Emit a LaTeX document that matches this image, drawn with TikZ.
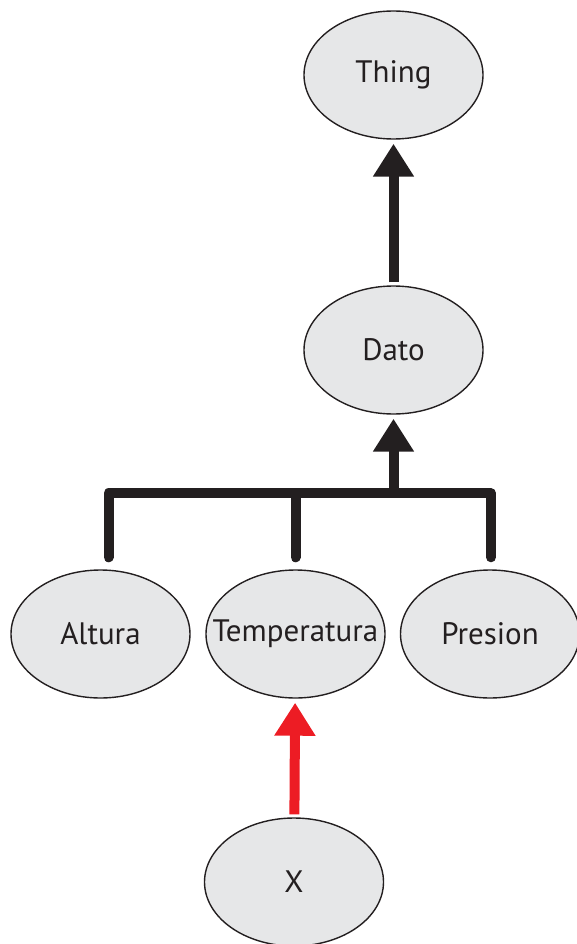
\documentclass[tikz,border=0pt]{standalone}
\usepackage{fontspec}
\setmainfont{PT Sans}
\usetikzlibrary{shapes.geometric,arrows.meta}
\definecolor{inkblack}{HTML}{231F20}
\definecolor{classfill}{HTML}{E6E7E8}
\definecolor{inkred}{HTML}{ED1C24}
\newcommand\centred[1]{\makebox[0pt][c]{#1}}
\begin{document}
\begin{tikzpicture}[x=1pt,y=-1pt,
  class/.style={ellipse,draw=inkblack,fill=classfill,line width=1.4pt,
    minimum width=179pt,minimum height=128pt,inner sep=0pt,
    font=\fontsize{31}{37}\selectfont,text=inkblack},
  tree/.style={draw=inkblack,line width=10pt,line cap=round,line join=round},
  isa/.style={draw=#1,line width=10pt,line cap=butt,
    -{Triangle[length=33pt,width=39pt]},shorten >=4pt,shorten <=3pt},
]
\useasboundingbox (0,0) rectangle (576,944);

% classes
\node[class] (thing) at (393.5,75)  {\centred{Thing}};
\node[class] (dato)  at (393.5,350) {\centred{Dato}};
\node[class] (alt)   at (100.5,634) {\centred{Altura}};
\node[class] (temp)  at (295.5,634) {\centred{Temperatura}};
\node[class] (pres)  at (490,634)   {\centred{Presion}};
\node[class] (x)     at (294,882)   {\centred{X}};

% subclass relations
\draw[isa=inkblack] (dato) -- (thing);

\coordinate (j) at (393.5,494);
\draw[tree] ([xshift=8pt,yshift=12pt]alt.north) |- ([xshift=1pt,yshift=76pt]pres.north)
  -- ([xshift=1pt,yshift=12pt]pres.north);
\draw[tree] ([yshift=12pt]temp.north) -- ([yshift=76pt]temp.north);
\draw[isa=inkblack,shorten <=0pt] (j) -- (dato);

% instance relation
\draw[isa=inkred] (x) -- (temp);
\end{tikzpicture}
\end{document}
